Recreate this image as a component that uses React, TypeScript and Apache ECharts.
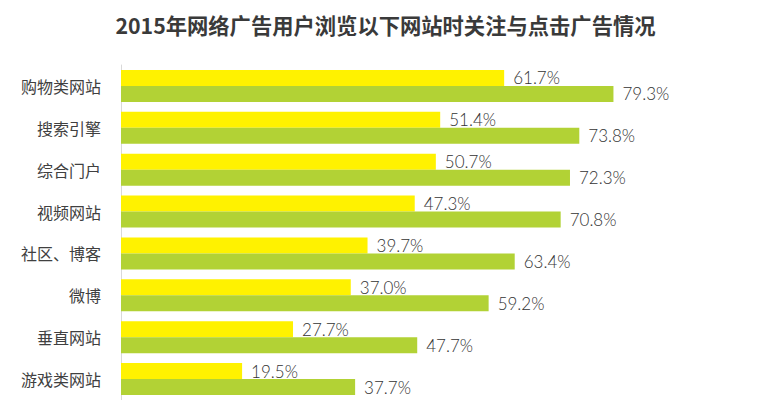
import React, { useEffect, useRef } from "react";
import * as echarts from "echarts";

const categories = ["购物类网站", "搜索引擎", "综合门户", "视频网站", "社区、博客", "微博", "垂直网站", "游戏类网站"];
const attentionValues = [61.7, 51.4, 50.7, 47.3, 39.7, 37.0, 27.7, 19.5];
const clickValues = [79.3, 73.8, 72.3, 70.8, 63.4, 59.2, 47.7, 37.7];
const titleText = "2015年网络广告用户浏览以下网站时关注与点击广告情况";

export default function App() {
  const ref = useRef<HTMLDivElement>(null);
  useEffect(() => {
    if (!ref.current) return;
    const chart = echarts.init(ref.current, undefined, { renderer: "svg" });
    const labelStyle = {
      show: true,
      position: "right" as const,
      distance: 9,
      color: "#333333",
      fontFamily: "Lato, 'Open Sans', sans-serif",
      fontWeight: 300 as any,
      fontSize: 17,
      formatter: (p: any) => Number(p.value).toFixed(1) + "%",
    };
    chart.setOption({
      animation: false,
      backgroundColor: "#ffffff",
      title: {
        text: titleText,
        left: "center",
        top: 9,
        textStyle: {
          fontFamily: "'Noto Sans CJK SC', sans-serif",
          fontSize: 21.3,
          fontWeight: "bold",
          color: "#3a3a3a",
        },
      },
      grid: { left: 121, top: 65, width: 621, height: 338 },
      xAxis: {
        type: "value",
        min: 0,
        max: 100,
        show: false,
      },
      yAxis: {
        type: "category",
        data: categories,
        inverse: true,
        axisTick: { show: false },
        axisLine: { show: true, lineStyle: { color: "#d9d9d9", width: 1 } },
        axisLabel: {
          margin: 20,
          color: "#404040",
          fontSize: 16,
          fontFamily: "'Noto Sans CJK SC', sans-serif",
        },
        splitLine: { show: false },
      },
      series: [
        {
          name: "关注广告",
          type: "bar",
          data: attentionValues,
          barWidth: 16,
          barGap: "0%",
          itemStyle: { color: "#FFF200" },
          label: labelStyle,
        },
        {
          name: "点击广告",
          type: "bar",
          data: clickValues,
          barWidth: 16,
          barGap: "0%",
          itemStyle: { color: "#B2D235" },
          label: labelStyle,
        },
      ],
    });
    return () => chart.dispose();
  }, []);
  return (
    <div
      ref={ref}
      style={{ position: "absolute", left: 0, top: 0, width: 771, height: 400, background: "#fff" }}
    />
  );
}
